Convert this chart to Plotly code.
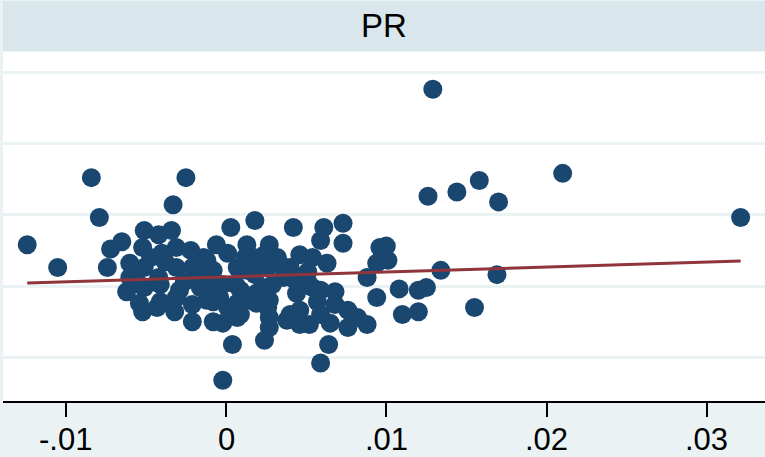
import numpy as np
import plotly.graph_objects as go

# Panel title
panel_title = "PR"

# Observations (horizontal variable, vertical variable)
x_vals = [
    0.0129, -0.0084, -0.0025, -0.0033, -0.0079, -0.0124, -0.0105, 0.0210, 0.0158, 0.0144,
    0.0126, 0.0170, 0.0321, 0.0134, 0.0169, 0.0155, 0.0108, 0.0120, 0.0125, 0.0110,
    0.0120, -0.0002, 0.0059, 0.0004, 0.0064, 0.0024, 0.0100, 0.0101, 0.0096, 0.0094,
    0.0088, 0.0094, 0.0082, 0.0088, 0.0076, 0.0076, 0.0073, 0.0073, 0.0061, 0.0059,
    0.0042, 0.0054, 0.0063, 0.0018, 0.0003, -0.0006, 0.0013, 0.0027, -0.0014, 0.0001,
    0.0032, -0.0031, -0.0021, -0.0008, 0.0013, 0.0026, 0.0040, 0.0051, -0.0029, -0.0016,
    -0.0004, 0.0009, 0.0023, 0.0027, 0.0044, 0.0054, -0.0012, 0.0007, 0.0036, 0.0051,
    0.0059, 0.0068, 0.0057, 0.0026, 0.0027, 0.0038, 0.0052, 0.0065, 0.0040, 0.0027,
    0.0019, 0.0029, 0.0021, -0.0051, -0.0042, -0.0034, -0.0065, -0.0072, -0.0052, -0.0031,
    -0.0040, -0.0074, -0.0060, -0.0051, -0.0042, -0.0062, -0.0051, -0.0041, -0.0041, -0.0031,
    -0.0052, -0.0043, -0.0021, -0.0008, 0.0001, 0.0009, -0.0021, -0.0008, -0.0002, 0.0007,
    0.0019, -0.0054, -0.0012, 0.0017, 0.0007, -0.0002, -0.0047, -0.0038, -0.0022, -0.0016,
    -0.0026, -0.0010, 0.0018, 0.0034, 0.0043, 0.0012, 0.0046, 0.0059, 0.0068, 0.0046,
    -0.0054, -0.0032, 0.0015, 0.0006, 0.0024, 0.0046, -0.0060,
]
y_vals = [
    0.138, 0.076, 0.076, 0.057, 0.048, 0.029, 0.013, 0.079, 0.074, 0.066,
    0.063, 0.059, 0.048, 0.011, 0.008, -0.015, -0.002, -0.003, -0.001, -0.020,
    -0.018, -0.066, -0.054, -0.041, -0.041, -0.038, 0.028, 0.018, 0.027, 0.016,
    0.006, -0.008, -0.022, -0.027, -0.029, -0.017, 0.044, 0.030, 0.041, 0.032,
    0.041, 0.020, 0.016, 0.046, 0.041, 0.029, 0.029, 0.029, 0.020, 0.023,
    0.020, 0.013, 0.013, 0.011, 0.011, 0.013, 0.013, 0.010, -0.003, -0.001,
    -0.008, -0.003, -0.001, -0.010, -0.005, -0.001, -0.010, -0.012, 0.006, 0.003,
    -0.003, -0.004, -0.011, -0.015, -0.022, -0.024, -0.027, -0.026, -0.020, -0.029,
    -0.005, 0.001, 0.017, 0.039, 0.036, 0.039, 0.031, 0.026, 0.027, 0.027,
    0.023, 0.013, 0.016, 0.013, 0.006, -0.004, -0.001, 0.001, -0.011, -0.008,
    -0.018, -0.015, -0.013, -0.011, -0.015, -0.020, -0.025, -0.025, -0.026, -0.022,
    -0.012, -0.012, 0.018, 0.020, 0.013, 0.001, 0.020, 0.017, 0.025, 0.008,
    0.003, 0.001, 0.008, 0.015, 0.004, 0.020, -0.017, -0.020, -0.013, -0.027,
    0.001, -0.018, -0.010, 0.001, 0.022, 0.022, 0.006,
]

# Linear fit (intercept, slope)
fit_intercept = 0.0064
fit_slope = 0.345

# Axis ticks
x_ticks = [-0.01, 0.0, 0.01, 0.02, 0.03]
x_tick_labels = ["-.01", "0", ".01", ".02", ".03"]
y_grid = [-0.05, 0.0, 0.05, 0.10, 0.15]

fit_x = np.array([min(x_vals), max(x_vals)])
fit_y = fit_intercept + fit_slope * fit_x

MARKER = "#1a476f"
FITLINE = "#90353b"
BG = "#eaf2f3"
BAND = "#d9e6eb"
FONT = "Liberation Sans, Arial, sans-serif"

W, H = 765, 457
M_L, M_R, M_T, M_B = 3, 0, 52, 56
plot_h = H - M_T - M_B

fig = go.Figure()
fig.add_trace(go.Scatter(
    x=x_vals, y=y_vals, mode="markers",
    marker=dict(color=MARKER, size=19, line=dict(width=0)),
    hoverinfo="skip", showlegend=False,
))
fig.add_trace(go.Scatter(
    x=fit_x, y=fit_y, mode="lines",
    line=dict(color=FITLINE, width=3),
    hoverinfo="skip", showlegend=False,
))

# Title band above the plot region
fig.add_shape(
    type="rect", xref="paper", yref="paper",
    x0=0, x1=1, y0=1 + 1 / plot_h, y1=1 + 51 / plot_h,
    fillcolor=BAND, line=dict(width=0), layer="below",
)
fig.add_annotation(
    text=panel_title, xref="paper", yref="paper",
    x=0.5, y=1 + 26 / plot_h, xanchor="center", yanchor="middle",
    showarrow=False, font=dict(family=FONT, size=33, color="black"),
)

# Tick labels placed closer to the tick marks than the default standoff
for tv, tl in zip(x_ticks, x_tick_labels):
    fig.add_annotation(
        text=tl, xref="x", yref="paper", x=tv, y=-38 / plot_h,
        xanchor="center", yanchor="middle", showarrow=False,
        borderpad=0, font=dict(family=FONT, size=31, color="black"),
    )

fig.update_layout(
    width=W, height=H,
    margin=dict(l=M_L, r=M_R, t=M_T, b=M_B, pad=0, autoexpand=False),
    paper_bgcolor=BG, plot_bgcolor="white",
    font=dict(family=FONT, color="black"),
    xaxis=dict(
        range=[-0.01391, 0.03362], tickvals=x_ticks, showticklabels=False,
        showgrid=False, zeroline=False, automargin=False,
        showline=True, linecolor="black", linewidth=2,
        ticks="outside", ticklen=14, tickwidth=2, tickcolor="black",
    ),
    yaxis=dict(
        range=[-0.0806, 0.1641], tickvals=y_grid, showticklabels=False,
        showgrid=True, gridcolor=BG, gridwidth=2.5, zeroline=False,
        automargin=False, showline=False, ticks="",
    ),
)

fig.write_html("out.html")
